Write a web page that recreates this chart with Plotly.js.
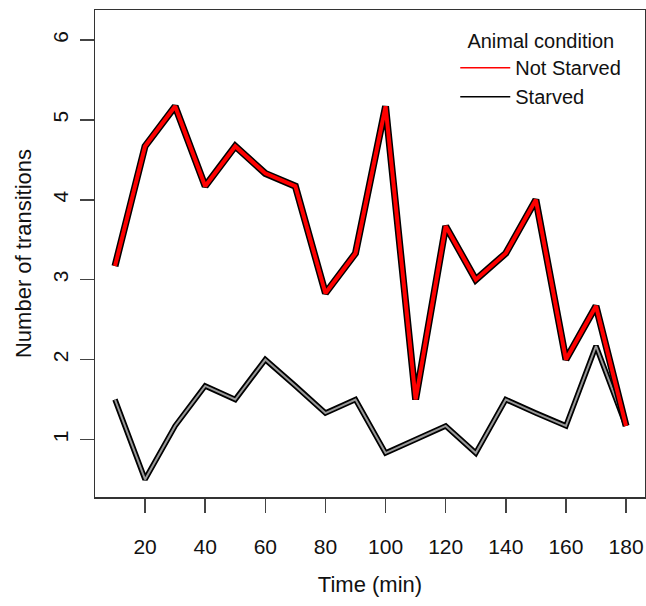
<!DOCTYPE html>
<html>
<head>
<meta charset="utf-8">
<script src="https://cdn.plot.ly/plotly-3.0.1.min.js"></script>
<style>html,body{margin:0;padding:0;background:#fff;}#chart{width:646px;height:606px;}</style>
</head>
<body>
<div id="chart"></div>
<script>
const timeMin = [10,20,30,40,50,60,70,80,90,100,110,120,130,140,150,160,170,180];
const notStarved = [3.17,4.67,5.17,4.17,4.67,4.33,4.17,2.83,3.33,5.17,1.5,3.67,3.0,3.33,4.0,2.0,2.67,1.17];
const starved = [1.5,0.5,1.17,1.67,1.5,2.0,1.67,1.33,1.5,0.83,1.0,1.17,0.83,1.5,1.33,1.17,2.17,1.17];
const xTicks = [20,40,60,80,100,120,140,160,180];
const yTicks = [1,2,3,4,5,6];
const seriesNames = ["Not Starved","Starved"];

const FONT = "Liberation Sans, Arial, sans-serif";
const traces = [
  {x: timeMin, y: starved, mode: "lines", line: {color: "#000", width: 5.5}, showlegend: false, hoverinfo: "skip"},
  {x: timeMin, y: starved, mode: "lines", line: {color: "#999999", width: 2}, showlegend: false, hoverinfo: "skip"},
  {x: timeMin, y: notStarved, mode: "lines", line: {color: "#000", width: 7}, showlegend: false, hoverinfo: "skip"},
  {x: timeMin, y: notStarved, mode: "lines", line: {color: "#ff0000", width: 4}, showlegend: false, hoverinfo: "skip"},
  {x: [null], y: [null], mode: "lines", name: seriesNames[0], line: {color: "#ff0000", width: 1.5}},
  {x: [null], y: [null], mode: "lines", name: seriesNames[1], line: {color: "#000", width: 1.5}}
];

const layout = {
  width: 646, height: 606,
  margin: {l: 95, r: 1, t: 10, b: 109},
  paper_bgcolor: "#fff", plot_bgcolor: "#fff",
  font: {family: FONT, size: 21, color: "#111"},
  showlegend: true,
  legend: {
    x: 0.655, y: 0.975, xanchor: "left", yanchor: "top",
    bgcolor: "rgba(0,0,0,0)", borderwidth: 0,
    itemwidth: 50,
    font: {family: FONT, size: 20, color: "#111"},
    title: {text: "Animal condition", side: "top center", font: {family: FONT, size: 20, color: "#111"}},
    tracegroupgap: 0
  },
  xaxis: {
    range: [3.35, 186.3],
    tickmode: "array", tickvals: xTicks, ticktext: xTicks.map(String),
    ticks: "outside", ticklen: 14, tickwidth: 1.5, tickcolor: "#444",
    showline: true, linecolor: "#333", linewidth: 1.5, mirror: true,
    showgrid: false, zeroline: false,
    ticklabelstandoff: 16,
    tickfont: {family: FONT, size: 21, color: "#111"},
    title: {text: "Time (min)", font: {family: FONT, size: 22, color: "#111"}, standoff: 20}
  },
  yaxis: {
    range: [0.28, 6.375],
    tickmode: "array", tickvals: yTicks, ticktext: yTicks.map(String),
    tickangle: -90,
    ticks: "outside", ticklen: 14, tickwidth: 1.5, tickcolor: "#444",
    showline: true, linecolor: "#333", linewidth: 1.5, mirror: true,
    showgrid: false, zeroline: false,
    ticklabelstandoff: 3,
    tickfont: {family: FONT, size: 21, color: "#111"},
    title: {text: "Number of transitions", font: {family: FONT, size: 22, color: "#111"}, standoff: 11}
  }
};

Plotly.newPlot("chart", traces, layout, {staticPlot: true, displayModeBar: false});
</script>
</body>
</html>
